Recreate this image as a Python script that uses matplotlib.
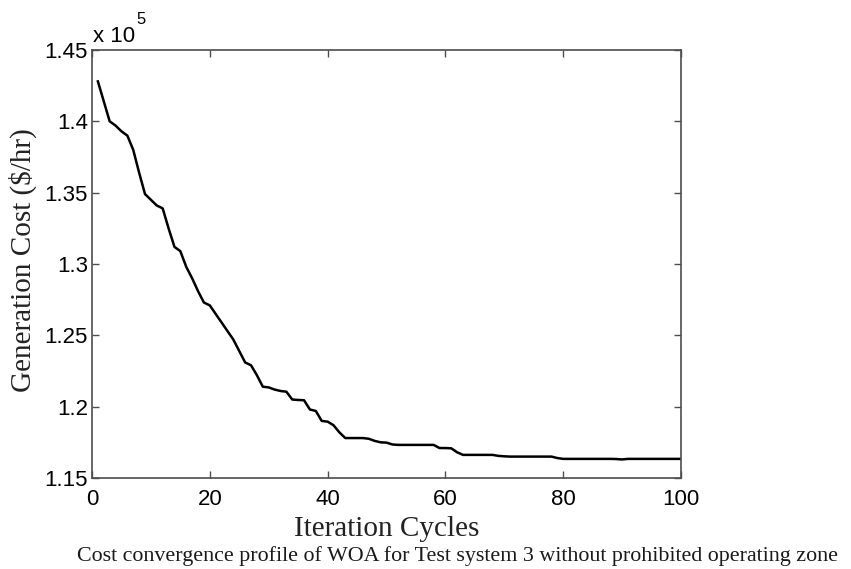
import numpy as np
import matplotlib
matplotlib.use("Agg")
import matplotlib.pyplot as plt
from matplotlib.ticker import FuncFormatter

# Best-so-far generation cost per iteration ($/hr)
iterations = np.arange(1, 101)
cost = [
    142800, 141400, 140000, 139700, 139300, 139000, 138000, 136400, 134900, 134500,
    134100, 133900, 132500, 131200, 130900, 129800, 129000, 128100, 127300, 127100,
    126500, 125900, 125300, 124700, 123900, 123100, 122900, 122200, 121400, 121350,
    121200, 121100, 121050, 120500, 120470, 120450, 119800, 119700, 119000, 118950,
    118700, 118200, 117800, 117800, 117800, 117800, 117750, 117600, 117500, 117480,
    117350, 117320, 117320, 117320, 117320, 117320, 117320, 117320, 117100, 117100,
    117080, 116800, 116620, 116620, 116620, 116620, 116620, 116620, 116550, 116520,
    116500, 116500, 116500, 116500, 116500, 116500, 116500, 116500, 116400, 116340,
    116340, 116340, 116340, 116340, 116340, 116340, 116340, 116340, 116330, 116300,
    116340, 116340, 116340, 116340, 116340, 116340, 116340, 116340, 116340, 116340,
]
yticks = [115000, 120000, 125000, 130000, 135000, 140000, 145000]
xticks = [0, 20, 40, 60, 80, 100]

sans = ["Liberation Sans", "DejaVu Sans"]
serif = ["Liberation Serif", "DejaVu Serif"]
frame_col = "#4d4d4d"

fig = plt.figure(figsize=(8.51, 5.69), dpi=100)
ax = fig.add_axes([92 / 851, 1 - 478 / 569, 589 / 851, 428 / 569])

ax.plot(iterations, cost, color="black", linewidth=1.8)

ax.set_xlim(0, 100)
ax.set_ylim(115000, 145000)
ax.set_xticks(xticks)
ax.set_yticks(yticks)
ax.yaxis.set_major_formatter(FuncFormatter(lambda v, p: f"{v / 1e5:g}"))

ax.tick_params(direction="in", length=5, width=1, color=frame_col,
               top=True, right=True, labelsize=16)
ax.tick_params(axis="x", pad=8)
ax.tick_params(axis="y", pad=3)
for lab in ax.get_xticklabels() + ax.get_yticklabels():
    lab.set_fontfamily(sans)
for sp in ax.spines.values():
    sp.set_color(frame_col)
    sp.set_linewidth(1.2)

ax.set_xlabel("Iteration Cycles", fontsize=21, family=serif, color="#222222")
ax.set_ylabel("Generation Cost ($/hr)", fontsize=21, family=serif, color="#222222")
ax.xaxis.set_label_coords(0.5, -0.088)
ax.yaxis.set_label_coords(-0.094, 0.51)

# MATLAB-style exponent label
fig.text(93 / 851, 1 - 42 / 569, "x 10", fontsize=16, family=sans, ha="left", va="baseline")
fig.text(136 / 851, 1 - 24 / 569, "5", fontsize=12, family=sans, ha="left", va="baseline")

fig.text(0.538, 1 - 556 / 569,
         "Cost convergence profile of WOA for Test system 3 without prohibited operating zone",
         fontsize=15.8, family=serif, ha="center", va="center", color="#1a1a1a")

fig.savefig("out.png", dpi=100)
